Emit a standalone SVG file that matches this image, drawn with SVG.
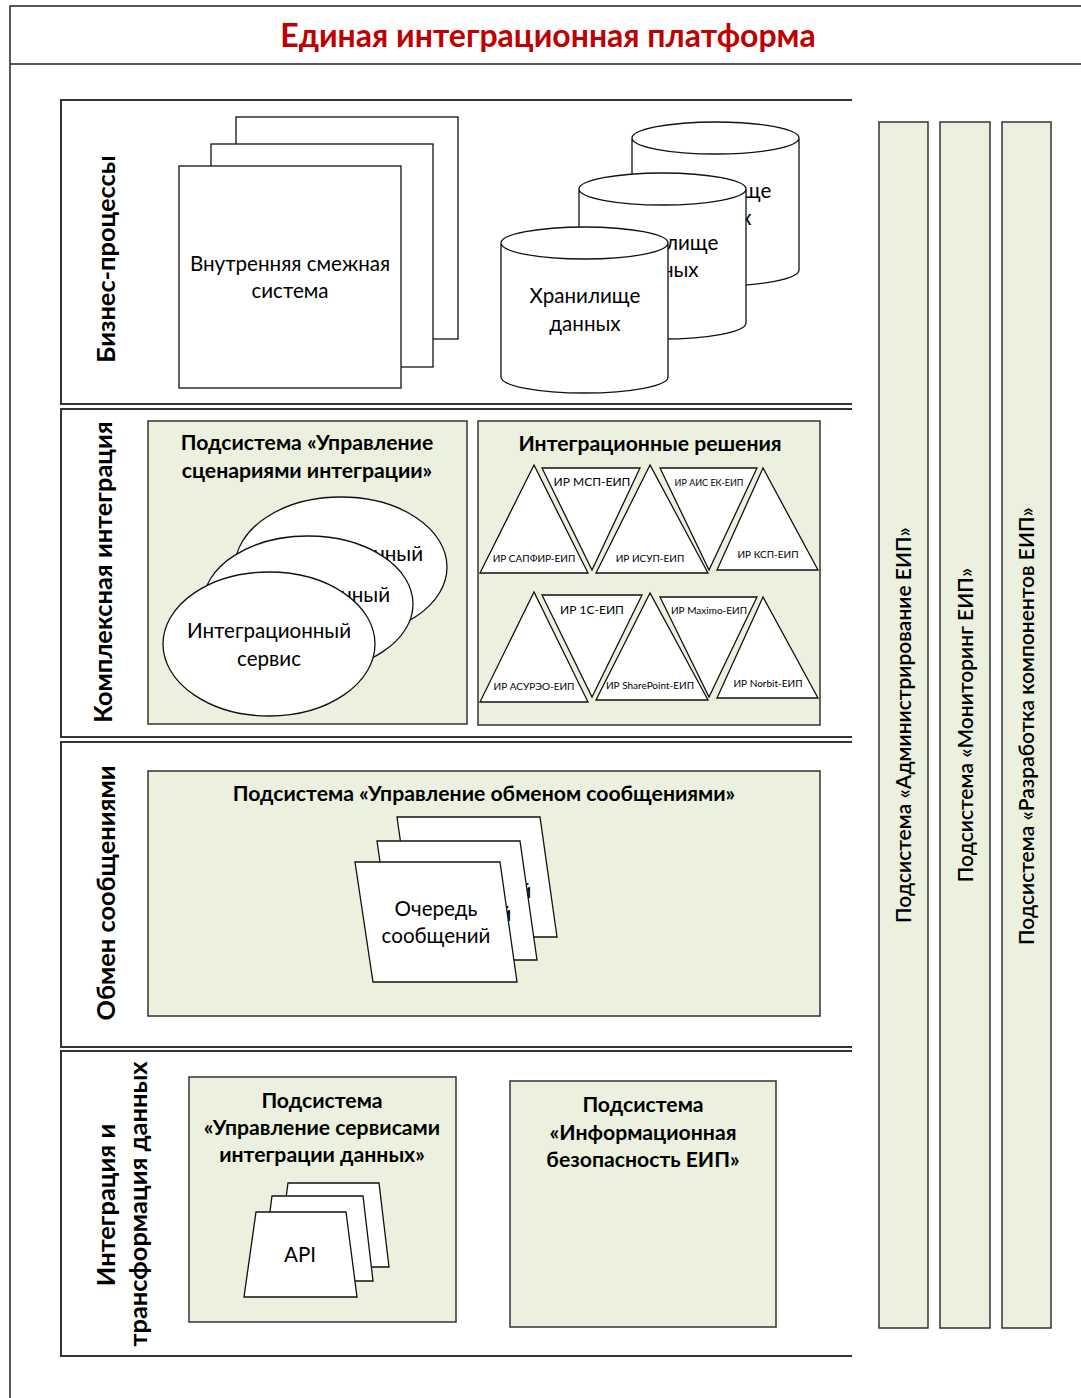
<svg xmlns="http://www.w3.org/2000/svg" width="1081" height="1398" viewBox="0 0 1081 1398">
<defs>
<style>
text{font-family:Lato,"Noto Sans","Liberation Sans",sans-serif;fill:#000;text-anchor:middle}
.frame{fill:none;stroke:#222;stroke-width:1.5}
.band{fill:none;stroke:#333;stroke-width:2}
.green{fill:#EBF1DE;stroke:#333;stroke-width:1.5}
.shape{fill:#fff;stroke:#111;stroke-width:1.3}
.title{font-size:32px;font-weight:bold;fill:#C00000}
.layer{font-size:25.4px;font-weight:bold}
.sub{font-size:21.2px;font-weight:bold}
.lbl{font-size:20.6px}
.side{font-size:21px;font-weight:600}
.tri{font-size:10px}
.tri2{font-size:12px}
</style>
</defs>
<rect width="1081" height="1398" fill="#fff"/>
<g id="frame">
<path class="frame" d="M1081,6 H10 V1398 M10,64 H1081"/>
<text class="title" x="548" y="47">Единая интеграционная платформа</text>
</g>
<g id="layers">
<path class="band" d="M852,100 H61 V404 H852"/>
<path class="band" d="M852,409 H61 V737 H852"/>
<path class="band" d="M852,742 H61 V1047 H852"/>
<path class="band" d="M852,1051 H61 V1356 H852"/>
<text class="layer" transform="translate(115,259) rotate(-90)">Бизнес-процессы</text>
<text class="layer" transform="translate(112,572) rotate(-90)">Комплексная интеграция</text>
<text class="layer" transform="translate(115,893) rotate(-90)">Обмен сообщениями</text>
<text class="layer" transform="translate(115,1205) rotate(-90)">Интеграция и</text>
<text class="layer" transform="translate(147,1204) rotate(-90)">трансформация данных</text>
</g>
<g id="side-subsystems">
<rect class="green" x="879" y="122" width="49" height="1206"/>
<rect class="green" x="940" y="122" width="50" height="1206"/>
<rect class="green" x="1002" y="122" width="49" height="1206"/>
<text class="side" transform="translate(911,725) rotate(-90)">Подсистема «Администрирование ЕИП»</text>
<text class="side" transform="translate(973,725) rotate(-90)">Подсистема «Мониторинг ЕИП»</text>
<text class="side" transform="translate(1034,726) rotate(-90)">Подсистема «Разработка компонентов ЕИП»</text>
</g>
<g id="adjacent-systems">
<rect class="shape" x="236" y="117" width="222" height="222"/>
<rect class="shape" x="211" y="144" width="222" height="223"/>
<rect class="shape" x="179" y="166" width="222" height="222"/>
<text class="lbl" x="290" y="271">Внутренняя смежная</text>
<text class="lbl" x="290" y="298">система</text>
</g>
<g id="data-stores">
<path class="shape" d="M632,138 V270 A83.5,16 0 0 0 799,270 V138 A83.5,16 0 0 0 632,138 A83.5,16 0 0 0 799,138"/>
<text class="lbl" x="716" y="198">Хранилище</text>
<text class="lbl" x="716" y="225">данных</text>
<path class="shape" d="M579,189 V323 A83.5,16 0 0 0 746,323 V189 A83.5,16 0 0 0 579,189 A83.5,16 0 0 0 746,189"/>
<text class="lbl" x="663" y="250">Хранилище</text>
<text class="lbl" x="663" y="277">данных</text>
<path class="shape" d="M501,243 V377 A83.5,16 0 0 0 668,377 V243 A83.5,16 0 0 0 501,243 A83.5,16 0 0 0 668,243"/>
<text class="lbl" x="585" y="303">Хранилище</text>
<text class="lbl" x="585" y="331">данных</text>
</g>
<g id="scenario-subsystem">
<rect class="green" x="148" y="421" width="319" height="303"/>
<text class="sub" x="307" y="450">Подсистема «Управление</text>
<text class="sub" x="307" y="478">сценариями интеграции»</text>
<ellipse class="shape" cx="341" cy="567" rx="106" ry="70"/>
<text class="lbl" x="341" y="561">Интеграционный</text>
<text class="lbl" x="341" y="589">сервис</text>
<ellipse class="shape" cx="308" cy="604" rx="105" ry="68"/>
<text class="lbl" x="308" y="602">Интеграционный</text>
<text class="lbl" x="308" y="630">сервис</text>
<ellipse class="shape" cx="269" cy="644" rx="106" ry="72"/>
<text class="lbl" x="269" y="638">Интеграционный</text>
<text class="lbl" x="269" y="666">сервис</text>
</g>
<g id="integration-solutions">
<rect class="green" x="478" y="421" width="342" height="304"/>
<text class="sub" x="650" y="451">Интеграционные решения</text>
<polygon class="shape" points="534,465 480,573 588,573"/>
<text class="tri" x="534" y="562">ИР САПФИР-ЕИП</text>
<polygon class="shape" points="542,468 640,468 592,570"/>
<text class="tri2" x="592" y="486">ИР МСП-ЕИП</text>
<polygon class="shape" points="650,465 596,573 708,573"/>
<text class="tri" x="650" y="562">ИР ИСУП-ЕИП</text>
<polygon class="shape" points="660,468 757,468 709,570"/>
<text class="tri" x="709" y="486" style="font-size:9px">ИР АИС ЕК-ЕИП</text>
<polygon class="shape" points="763,468 717,570 818,570"/>
<text class="tri" x="768" y="558">ИР КСП-ЕИП</text>
<polygon class="shape" points="534,592 480,702 588,702"/>
<text class="tri" x="534" y="690">ИР АСУРЭО-ЕИП</text>
<polygon class="shape" points="542,595 642,595 592,697"/>
<text class="tri2" x="592" y="614">ИР 1С-ЕИП</text>
<polygon class="shape" points="650,593 596,700 708,700"/>
<text class="tri" x="650" y="689">ИР SharePoint-ЕИП</text>
<polygon class="shape" points="660,597 757,597 709,697"/>
<text class="tri" x="709" y="614">ИР Maximo-ЕИП</text>
<polygon class="shape" points="763,597 717,698 818,698"/>
<text class="tri" x="768" y="687">ИР Norbit-ЕИП</text>
</g>
<g id="messaging-subsystem">
<rect class="green" x="148" y="771" width="672" height="245"/>
<text class="sub" x="484" y="801">Подсистема «Управление обменом сообщениями»</text>
<polygon class="shape" points="397,817 540,817 557,937 414,937"/>
<text class="lbl" x="477" y="871">Очередь</text>
<text class="lbl" x="477" y="898">сообщений</text>
<polygon class="shape" points="377,841 520,841 537,960 394,960"/>
<text class="lbl" x="457" y="894">Очередь</text>
<text class="lbl" x="457" y="921">сообщений</text>
<polygon class="shape" points="355,862 500,862 517,982 373,982"/>
<text class="lbl" x="436" y="916">Очередь</text>
<text class="lbl" x="436" y="943">сообщений</text>
</g>
<g id="data-services-subsystem">
<rect class="green" x="189" y="1077" width="267" height="245"/>
<text class="sub" x="322" y="1108">Подсистема</text>
<text class="sub" x="322" y="1135">«Управление сервисами</text>
<text class="sub" x="322" y="1162">интеграции данных»</text>
<polygon class="shape" points="288,1183 379,1183 389,1267 277,1267"/>
<polygon class="shape" points="272,1196 363,1196 373,1281 261,1281"/>
<polygon class="shape" points="256,1212 346,1212 357,1297 244,1297"/>
<text class="lbl" x="300" y="1262">API</text>
</g>
<g id="security-subsystem">
<rect class="green" x="510" y="1081" width="266" height="246"/>
<text class="sub" x="643" y="1112">Подсистема</text>
<text class="sub" x="643" y="1140">«Информационная</text>
<text class="sub" x="643" y="1167">безопасность ЕИП»</text>
</g>
<g id="connectors"/>
</svg>
